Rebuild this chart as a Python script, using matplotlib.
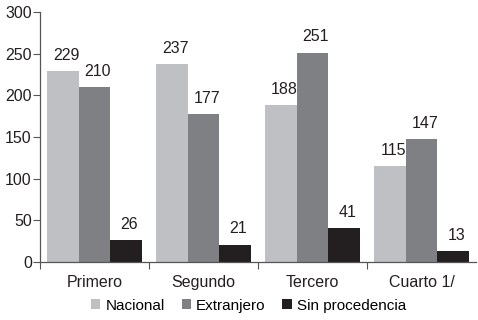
import matplotlib.pyplot as plt
import numpy as np

plt.rcParams['font.family'] = ['Liberation Sans', 'DejaVu Sans']

categories = ["Primero", "Segundo", "Tercero", "Cuarto 1/"]
series_names = ["Nacional", "Extranjero", "Sin procedencia"]
nacional = [229, 237, 188, 115]
extranjero = [210, 177, 251, 147]
sin_proc = [26, 21, 41, 13]
colors = ["#bfc0c4", "#7f8084", "#231f20"]

fs = 11.5
fig = plt.figure(figsize=(4.78, 3.2), dpi=100)
ax = fig.add_axes([0.084, 0.181, 0.912, 0.782])

x = np.arange(len(categories))
w = 0.29
for i, (vals, name, c) in enumerate(zip([nacional, extranjero, sin_proc], series_names, colors)):
    pos = x + (i - 1) * w
    ax.bar(pos, vals, w, color=c, label=name)
    for p, v in zip(pos, vals):
        ax.text(p + 0.03, v + 10, str(v), ha="center", va="bottom", fontsize=fs, color="#231f20")

ax.set_ylim(0, 300)
ax.set_xlim(-0.5, len(categories) - 0.5)
ax.set_yticks(range(0, 301, 50))
ax.set_xticks(x)
ax.set_xticklabels(categories)
ax.set_xticks(np.arange(-0.5, len(categories) - 0.5), minor=True)
ax.tick_params(axis="x", which="major", length=0, pad=9, labelsize=fs, labelcolor="#231f20")
ax.tick_params(axis="x", which="minor", length=5, width=0.8, color="#555555")
ax.tick_params(axis="y", length=5, width=0.8, color="#555555", labelsize=fs, labelcolor="#231f20", pad=1)
for s in ["top", "right"]:
    ax.spines[s].set_visible(False)
for s in ["left", "bottom"]:
    ax.spines[s].set_color("#555555")
    ax.spines[s].set_linewidth(0.9)

fig.legend(loc="center", bbox_to_anchor=(0.52, 0.045), ncol=3, frameon=False,
           fontsize=11, handlelength=0.6, handleheight=0.6, handletextpad=0.35,
           columnspacing=1.1)

fig.savefig("out.png", dpi=100)
